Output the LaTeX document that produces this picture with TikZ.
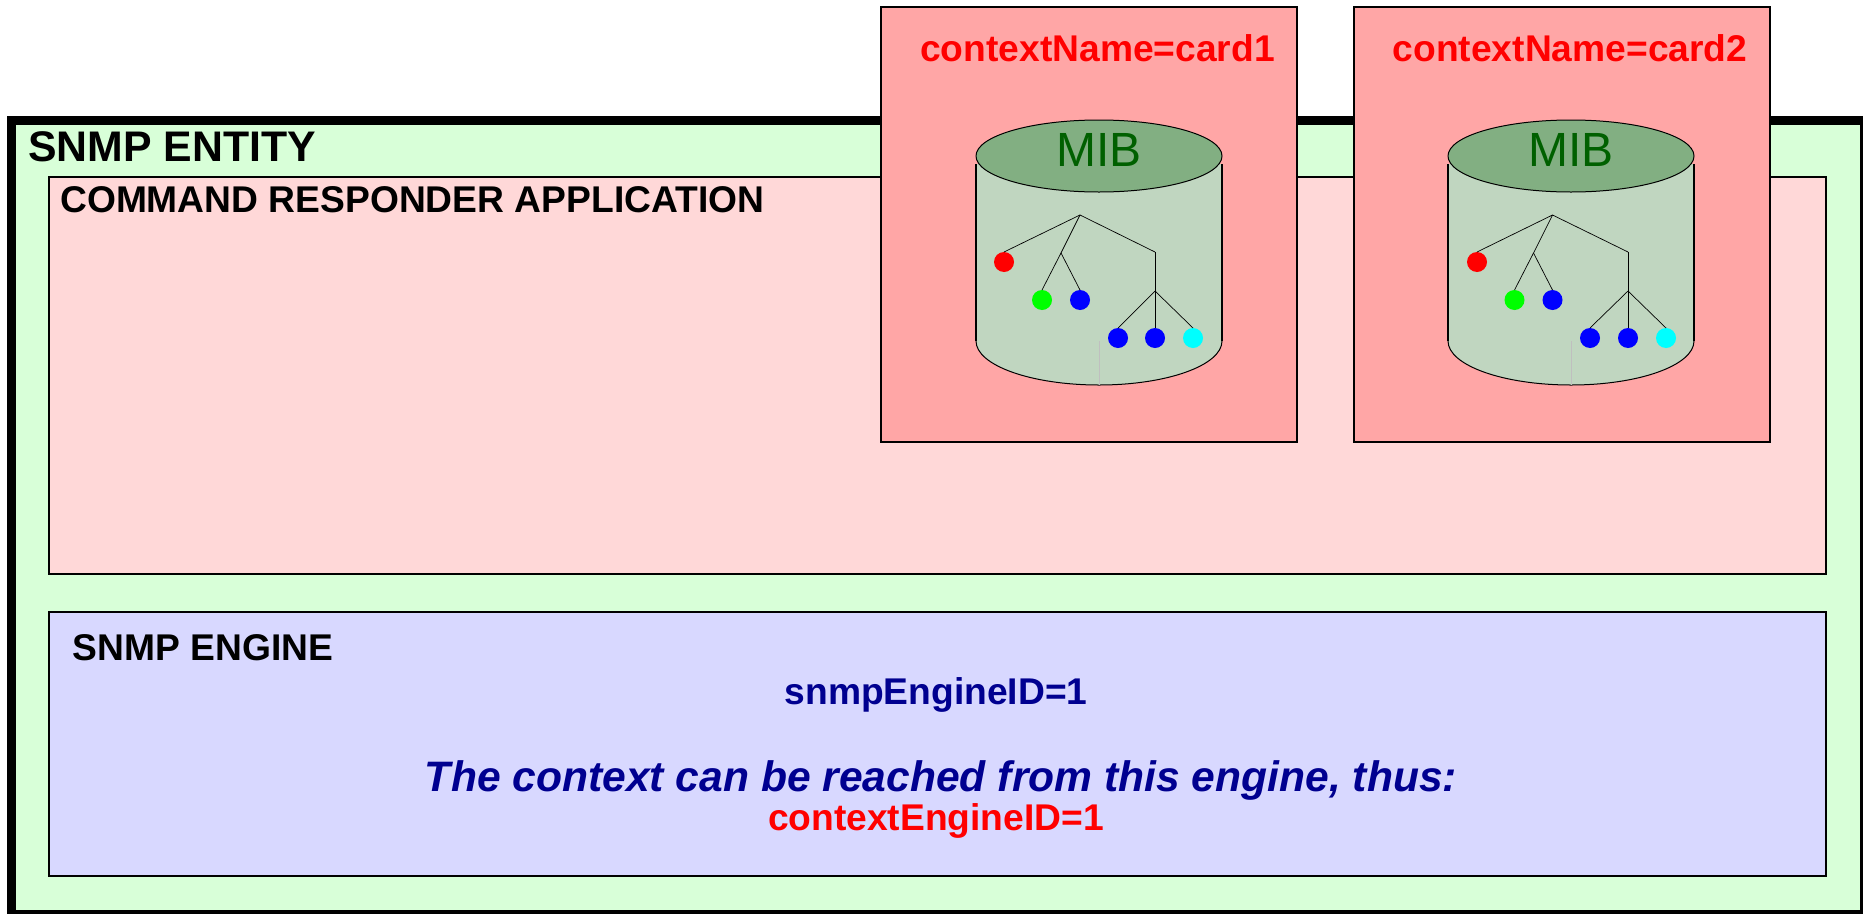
\documentclass[tikz,border=0pt]{standalone}
\usepackage{fontspec}
\setmainfont{Liberation Sans}
\usepackage{xcolor}
\usetikzlibrary{shapes.geometric, positioning}

\definecolor{entitygreen}{HTML}{D8FFD8}
\definecolor{responderpink}{HTML}{FFD8D8}
\definecolor{cardred}{HTML}{FFA6A6}
\definecolor{engineblue}{HTML}{D8D8FF}
\definecolor{mibside}{HTML}{C0D6C0}
\definecolor{mibtop}{HTML}{82AF82}
\definecolor{mibtext}{HTML}{006000}
\definecolor{enginetext}{HTML}{000090}
\definecolor{leafcyan}{HTML}{00FFFF}
\definecolor{leafgreen}{HTML}{00FF00}
\definecolor{leafblue}{HTML}{0000FF}
\definecolor{leafred}{HTML}{FF0000}

\tikzset{
    panel/.style={draw=black, line width=2pt, inner sep=0pt, outer sep=0pt},
    heading/.style={anchor=base west, inner sep=0pt, font=\bfseries\fontsize{37.2}{37.2}\selectfont},
    leaf/.style={circle, inner sep=0pt, outer sep=0pt, minimum size=20pt},
    branch/.style={line width=0.7pt},
    mibdisk/.style={ellipse, draw=black, line width=1pt, fill=mibtop, inner sep=0pt, minimum width=246pt, minimum height=72pt},
    miblabel/.style={anchor=base, inner sep=0pt, text=mibtext, font=\fontsize{48}{48}\selectfont}
}

\begin{document}
\begin{tikzpicture}[x=1pt, y=-1pt]
        \useasboundingbox (0, 0) rectangle (1863, 913);
        \clip (0, 0) rectangle (1863, 913);

        \node[panel, line width=9pt, fill=entitygreen, minimum width=1853pt, minimum height=794pt] (entity) at (938, 517.5) {};
        \node[panel, fill=responderpink, minimum width=1777pt, minimum height=397pt] (responder) at (937.5, 375.5) {};
        \node[panel, fill=engineblue, minimum width=1777pt, minimum height=264pt] (engine) at (937.5, 744) {};
        \node[panel, fill=cardred, minimum width=416pt, minimum height=435pt] (card1) at (1089, 224.5) {};
        \node[panel, fill=cardred, minimum width=416pt, minimum height=435pt] (card2) at (1562, 224.5) {};

        \node[heading, font=\bfseries\fontsize{42.8}{42.8}\selectfont] (entitytitle) at (28, 161) {SNMP ENTITY};
        \node[heading] (respondertitle) at (60, 212.5) {COMMAND RESPONDER APPLICATION};
        \node[heading] (enginetitle) at (72.5, 660) {SNMP ENGINE};
        \node[heading, text=leafred] (card1title) at (920, 61.5) {contextName=card1};
        \node[heading, text=leafred] (card2title) at (1392.5, 61.5) {contextName=card2};
        \node[heading, anchor=base, text=enginetext] (engineid) at (936, 704.5) {snmpEngineID=1};
        \node[heading, anchor=base, text=enginetext, font=\bfseries\itshape\fontsize{42.6}{42.6}\selectfont] (reach) at (941, 791) {The context can be reached from this engine, thus:};
        \node[heading, anchor=base, text=leafred] (contextid) at (936, 830) {contextEngineID=1};

        % first MIB
        \coordinate (a-nw) at (976, 164);
        \coordinate (a-sw) at (976, 341);
        \coordinate (a-se) at (1222, 341);
        \coordinate (a-ne) at (1222, 164);
        \coordinate (a-low) at (1099, 385);
        \fill[mibside] (a-nw) -- (a-sw) arc[start angle=180, end angle=360, x radius=123pt, y radius=44pt] -- (a-ne) -- cycle;
        \draw[line width=1pt] (a-sw) arc[start angle=180, end angle=360, x radius=123pt, y radius=44pt];
        \draw[line width=1.5pt] (a-nw) -- (a-sw);
        \draw[line width=1.5pt] (a-ne) -- (a-se);
        \coordinate (a-mid) at (1099, 341);
        \draw[line width=0.4pt, draw=black!25] (a-mid) -- (a-low);
        \node[mibdisk] (a-disk) at (1099, 156) {};
        \node[miblabel] (a-name) at (1099, 166) {MIB};

        \coordinate (a-root) at (1080, 215);
        \coordinate (a-fork) at (1061, 253);
        \coordinate (a-elbow) at (1155, 252);
        \coordinate (a-split) at (1155, 291);
        \node[leaf, fill=leafred] (a1) at (1004, 262) {};
        \node[leaf, fill=leafgreen] (a2) at (1042, 300) {};
        \node[leaf, fill=leafblue] (a3) at (1080, 300) {};
        \node[leaf, fill=leafblue] (a4) at (1118, 338) {};
        \node[leaf, fill=leafblue] (a5) at (1155, 338) {};
        \node[leaf, fill=leafcyan] (a6) at (1193, 338) {};
        \draw[branch] (a-root) -- (a1.north);
        \draw[branch] (a-root) -- (a-fork);
        \draw[branch] (a-fork) -- (a2.north);
        \draw[branch] (a-fork) -- (a3.north);
        \draw[branch] (a-root) -- (a-elbow);
        \draw[branch] (a-elbow) -- (a-split);
        \draw[branch] (a-split) -- (a4.north);
        \draw[branch] (a-split) -- (a5.north);
        \draw[branch] (a-split) -- (a6.north);

        % second MIB
        \coordinate (b-nw) at (1448, 164);
        \coordinate (b-sw) at (1448, 341);
        \coordinate (b-se) at (1694, 341);
        \coordinate (b-ne) at (1694, 164);
        \coordinate (b-low) at (1571, 385);
        \fill[mibside] (b-nw) -- (b-sw) arc[start angle=180, end angle=360, x radius=123pt, y radius=44pt] -- (b-ne) -- cycle;
        \draw[line width=1pt] (b-sw) arc[start angle=180, end angle=360, x radius=123pt, y radius=44pt];
        \draw[line width=1.5pt] (b-nw) -- (b-sw);
        \draw[line width=1.5pt] (b-ne) -- (b-se);
        \coordinate (b-mid) at (1571, 341);
        \draw[line width=0.4pt, draw=black!25] (b-mid) -- (b-low);
        \node[mibdisk] (b-disk) at (1571, 156) {};
        \node[miblabel] (b-name) at (1571, 166) {MIB};

        \coordinate (b-root) at (1552.5, 215);
        \coordinate (b-fork) at (1533.5, 253);
        \coordinate (b-elbow) at (1628, 252);
        \coordinate (b-split) at (1628, 291);
        \node[leaf, fill=leafred] (b1) at (1477, 262) {};
        \node[leaf, fill=leafgreen] (b2) at (1514.5, 300) {};
        \node[leaf, fill=leafblue] (b3) at (1552.5, 300) {};
        \node[leaf, fill=leafblue] (b4) at (1590, 338) {};
        \node[leaf, fill=leafblue] (b5) at (1628, 338) {};
        \node[leaf, fill=leafcyan] (b6) at (1666, 338) {};
        \draw[branch] (b-root) -- (b1.north);
        \draw[branch] (b-root) -- (b-fork);
        \draw[branch] (b-fork) -- (b2.north);
        \draw[branch] (b-fork) -- (b3.north);
        \draw[branch] (b-root) -- (b-elbow);
        \draw[branch] (b-elbow) -- (b-split);
        \draw[branch] (b-split) -- (b4.north);
        \draw[branch] (b-split) -- (b5.north);
        \draw[branch] (b-split) -- (b6.north);
    \end{tikzpicture}
\end{document}
